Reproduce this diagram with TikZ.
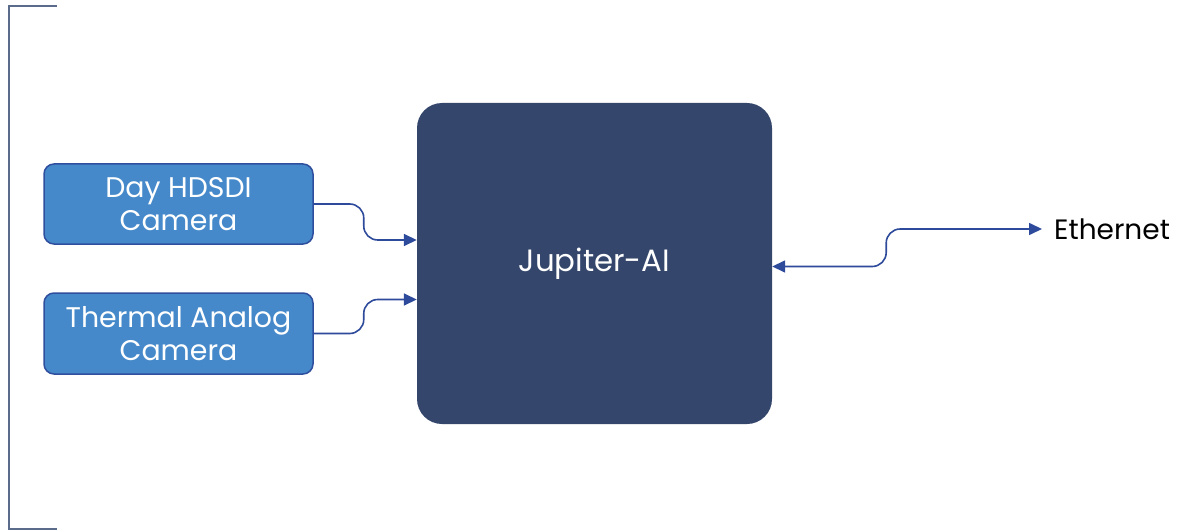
\documentclass[tikz,border=0pt]{standalone}
\usepackage{fontspec}
\setmainfont{Poppins}
\usetikzlibrary{arrows.meta,shapes.misc}
\definecolor{camfill}{HTML}{4589CA}
\definecolor{camdraw}{HTML}{2F4F9E}
\definecolor{jupfill}{HTML}{34466B}
\definecolor{conncol}{HTML}{2E4A9A}
\definecolor{brackcol}{HTML}{5B6B8C}
\tikzset{
  cambox/.style={draw=camdraw, line width=1.5pt, fill=camfill, rounded corners=10pt,
    minimum width=269pt, minimum height=80pt, text=white, align=center,
    font=\fontsize{28.4}{33.5}\selectfont, inner sep=0pt},
  jupbox/.style={fill=jupfill, rounded corners=25pt, minimum width=355pt,
    minimum height=321pt, text=white, font=\fontsize{30.8}{36}\selectfont, inner sep=0pt},
  conn/.style={draw=conncol, line width=1.6pt, rounded corners=14pt},
  tip/.style={-{Triangle[length=13pt,width=12pt]}},
}
\begin{document}
\begin{tikzpicture}[x=1pt,y=1pt]
\useasboundingbox (0,0) rectangle (1190,531);
\draw[brackcol, line width=1.3pt] (57,525) -- (9,525) -- (9,2) -- (57,2);
\node[cambox] (day) at (178.5,327) {Day HDSDI\\Camera};
\node[cambox, minimum height=81pt] (therm) at (178.5,197.5) {Thermal Analog\\Camera};
\node[jupbox] (jup) at (594.5,267.5) {Jupiter-AI};
\node[anchor=west, inner xsep=12pt, inner ysep=0pt, font=\fontsize{28}{32}\selectfont] (eth) at (1042,302) {Ethernet};
\draw[conn, tip] (day.east) -- ++(50,0) |- ([yshift=23.5pt]jup.west);
\draw[conn, tip] (therm.east) -- ++(50,0) |- ([yshift=-36pt]jup.west);
\draw[conn, {Triangle[length=13pt,width=12pt]}-{Triangle[length=13pt,width=12pt]}] ([yshift=-3pt]jup.east) -- ++(114,0) |- (eth.west);
\end{tikzpicture}
\end{document}
